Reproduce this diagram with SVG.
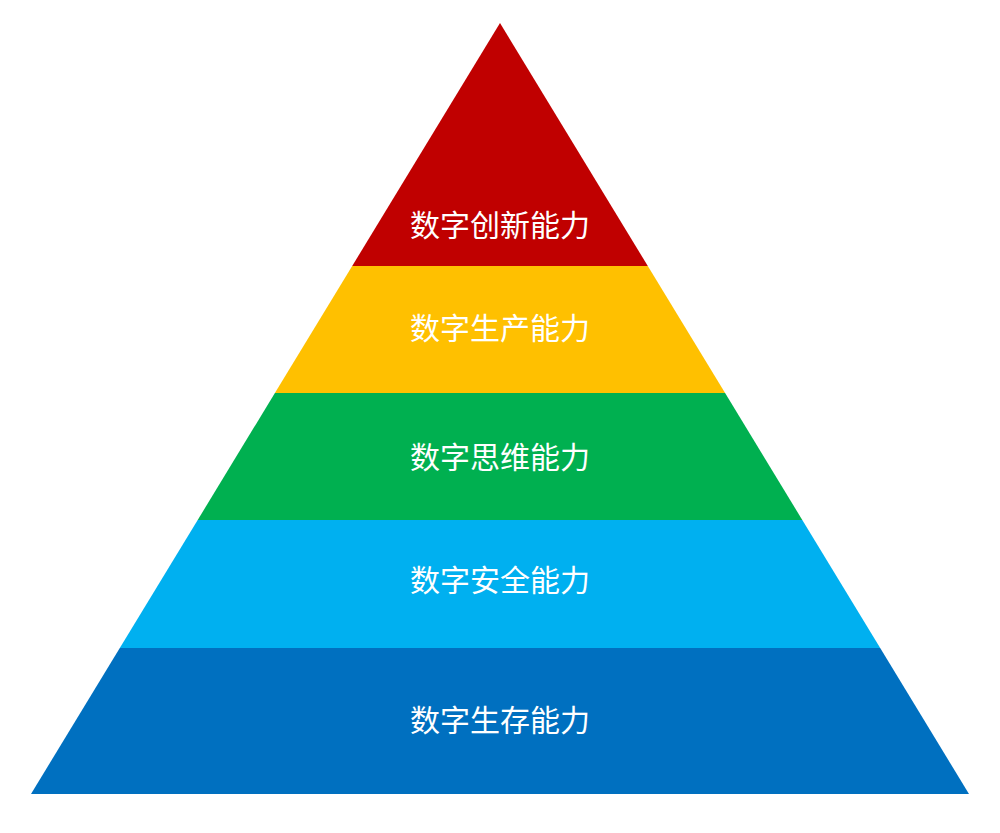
<svg xmlns="http://www.w3.org/2000/svg" width="1000" height="833" viewBox="0 0 1000 833">
<style>
.lbl{font-family:"Microsoft YaHei","Noto Sans CJK SC",sans-serif;font-size:30px;fill:#ffffff;text-anchor:middle;dominant-baseline:central}
</style>
<rect width="1000" height="833" fill="#ffffff"/>
<g id="layer1"><polygon points="500,23 647.8,266 352.2,266" fill="#C00000"/><text class="lbl" x="500" y="223">数字创新能力</text></g>
<g id="layer2"><polygon points="352.2,266 647.8,266 725.1,393 274.9,393" fill="#FFC000"/><text class="lbl" x="500" y="326">数字生产能力</text></g>
<g id="layer3"><polygon points="274.9,393 725.1,393 802.3,520 197.7,520" fill="#00B050"/><text class="lbl" x="500" y="455">数字思维能力</text></g>
<g id="layer4"><polygon points="197.7,520 802.3,520 880.2,648 119.8,648" fill="#00B0F0"/><text class="lbl" x="500" y="578">数字安全能力</text></g>
<g id="layer5"><polygon points="119.8,648 880.2,648 969,794 31,794" fill="#0070C0"/><text class="lbl" x="500" y="718">数字生存能力</text></g>
<g id="connectors"></g>
</svg>
